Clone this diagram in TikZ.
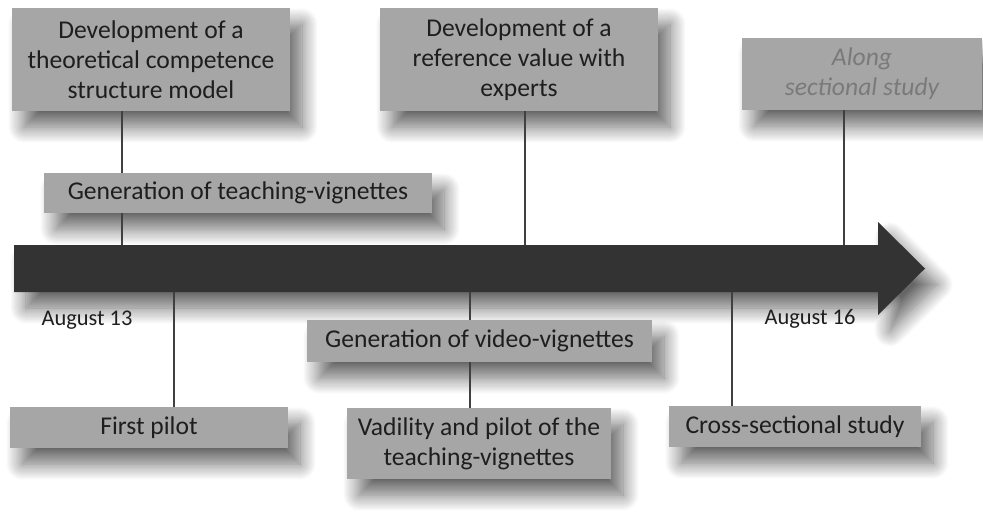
\documentclass[tikz,border=0pt]{standalone}
\usepackage{fontspec}
\setmainfont{Carlito}
\usetikzlibrary{shadows.blur}

\definecolor{boxgray}{RGB}{166,166,166}
\definecolor{axisgray}{RGB}{51,51,51}
\definecolor{linegray}{RGB}{64,64,64}
\definecolor{textdark}{RGB}{30,30,30}
\definecolor{textlight}{RGB}{122,122,122}

\begin{document}
\begin{tikzpicture}[x=0.5pt,y=-0.5pt,every node/.style={font=\fontsize{12.8}{15}\selectfont,text=textdark}]

	\tikzstyle{soft} = [blur shadow={shadow xshift=6pt, shadow yshift=-8pt, shadow blur radius=8pt, shadow blur steps=16, shadow opacity=60}]
	\tikzstyle{stage} = [rectangle, fill=boxgray, align=center, inner sep=0pt, soft]
	\tikzstyle{date} = [font=\fontsize{11.2}{13}\selectfont]
	\tikzstyle{link} = [draw=linegray, line width=1pt]

	\useasboundingbox (0,0) rectangle (983,521);

	% time axis
	\fill [axisgray, soft] (14,245) -- (878,245) -- (878,222) -- (925,268.5) -- (878,315) -- (878,292) -- (14,292) -- cycle;
	\coordinate (a1) at (122,245);
	\coordinate (a2) at (525,245);
	\coordinate (a3) at (844,245);
	\coordinate (b1) at (174,292);
	\coordinate (b2) at (470,292);
	\coordinate (b3) at (732,292);

	\node [date] at (87,320) (aug13) {August 13};
	\node [date] at (810,319) (aug16) {August 16};

	% above the axis
	\node [stage, minimum width=139pt, minimum height=51.5pt] at (151,59.5) (d1) {Development of a\\theoretical competence\\structure model};
	\node [stage, minimum width=139pt, minimum height=51.5pt] at (519,59.5) (d2) {Development of a\\reference value with\\experts};
	\node [stage, minimum width=120pt, minimum height=36pt, text=textlight, font=\fontsize{12.8}{15}\selectfont\itshape] at (862,74) (d3) {Along\\sectional study};
	\node [stage, minimum width=194pt, minimum height=20pt] at (238,193) (tv) {Generation of teaching-vignettes};

	% below the axis
	\node [stage, minimum width=139pt, minimum height=20.5pt] at (149,427.5) (p1) {First pilot};
	\node [stage, minimum width=172.5pt, minimum height=21pt] at (479.5,341) (vv) {Generation of video-vignettes};
	\node [stage, minimum width=132pt, minimum height=35.5pt] at (479,443.5) (vp) {Vadility and pilot of the\\teaching-vignettes};
	\node [stage, minimum width=126pt, minimum height=20.5pt] at (795,426.5) (cs) {Cross-sectional study};

	\draw [link] (d1.south -| a1) -- (tv.north -| a1);
	\draw [link] (tv.south -| a1) -- (a1);
	\draw [link] (d2.south -| a2) -- (a2);
	\draw [link] (d3.south -| a3) -- (a3);
	\draw [link] (b1) -- (p1.north -| b1);
	\draw [link] (b2) -- (vv.north -| b2);
	\draw [link] (vv.south -| b2) -- (vp.north -| b2);
	\draw [link] (b3) -- (cs.north -| b3);

\end{tikzpicture}
\end{document}
